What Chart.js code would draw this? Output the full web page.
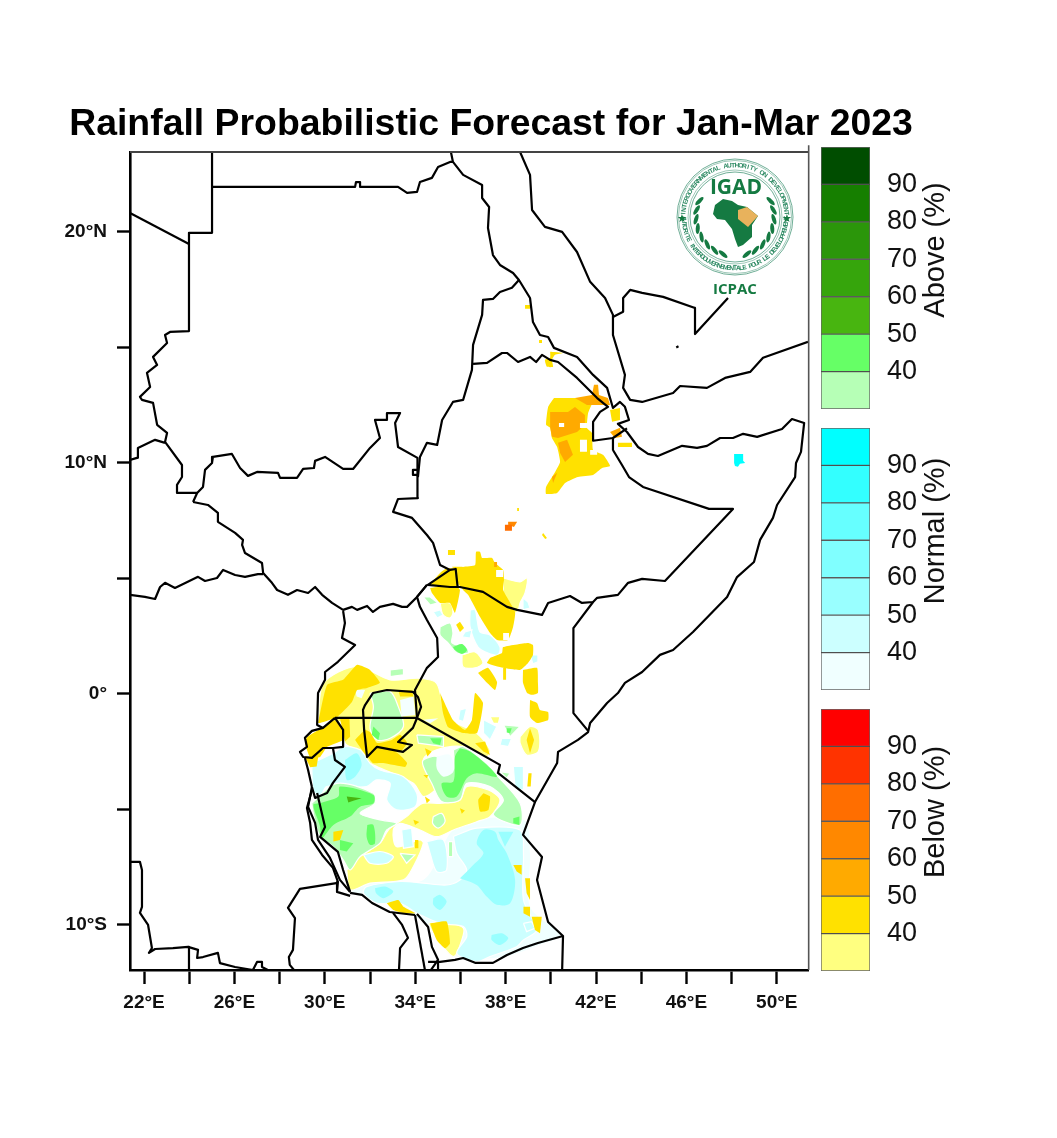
<!DOCTYPE html>
<html><head><meta charset="utf-8">
<script src="https://cdn.jsdelivr.net/npm/chart.js@4/dist/chart.umd.min.js"></script>
<style>
html,body{margin:0;padding:0;background:#fff;width:1057px;height:1138px;overflow:hidden}
canvas{position:absolute;display:block}
</style></head><body>
<canvas id="map" width="982" height="1138" style="left:0;top:0"></canvas>
<canvas id="barAbove" width="150" height="276" style="left:821px;top:140px"></canvas>
<canvas id="barNormal" width="150" height="276" style="left:821px;top:421px"></canvas>
<canvas id="barBelow" width="150" height="276" style="left:821px;top:702px"></canvas>
<script>
const chartTitle="Rainfall Probabilistic Forecast for Jan-Mar 2023";
const lonTicks=[22,24,26,28,30,32,34,36,38,40,42,44,46,48,50];
const lonLabels={22:"22°E",26:"26°E",30:"30°E",34:"34°E",38:"38°E",42:"42°E",46:"46°E",50:"50°E"};
const latTicks=[-10,-5,0,5,10,15,20];
const latLabels={"-10":"10°S","0":"0°","10":"10°N","20":"20°N"};
const barEdges=[30,40,50,60,70,80,90,100];
const barTicks=[40,50,60,70,80,90];
const aboveColors=["#B6FFB6","#66FF66","#48B510","#36A50C","#2B960A","#167F00","#004D00"];
const normalColors=["#F0FFFF","#CCFFFF","#99FFFF","#80FFFF","#66FFFF","#33FFFF","#00FFFF"];
const belowColors=["#FFFF80","#FFE100","#FFAA00","#FF8800","#FF6E00","#FF3300","#FF0000"];

// ---------- country borders and coasts, [lon,lat] ----------
const redSeaWest=[[35.58,23.46],[35.67,23.03],[36.12,22.47],[36.96,22.03],[36.96,21.47],[37.27,21.08],[37.22,20.17],[37.44,19.0],[37.75,18.57],[38.33,18.22],[38.59,17.92],[39.08,17.14],[39.21,16.1],[39.52,15.54],[39.88,15.45],[40.14,14.98],[41.16,14.59],[41.87,13.81],[42.49,13.25],[42.75,12.38],[43.06,12.64],[43.28,12.43],[43.46,11.86],[42.97,11.69],[43.37,11.34],[43.86,10.69],[44.3,10.39],[44.74,10.3],[45.81,10.74],[46.47,10.65],[46.91,10.74],[47.49,11.08],[48.06,11.08],[48.51,11.26],[49.13,11.13],[50.23,11.47],[50.67,11.9],[51.21,11.73],[51.07,10.48],[50.85,10.0],[50.81,9.39],[50.01,8.18],[49.83,7.62],[49.26,6.67],[48.99,5.71],[48.24,5.06],[47.8,4.2],[46.29,2.68],[45.41,1.9],[44.83,1.69],[44.04,0.95],[43.28,0.48],[42.97,0.04],[42.49,-0.39],[41.74,-1.26],[41.65,-1.65],[41.2,-1.99],[40.32,-2.51],[40.28,-2.99],[39.3,-4.68],[38.77,-6.1],[39.61,-7.06],[39.39,-8.05],[39.88,-9.87],[40.54,-10.48],[40.5,-12]];
const tanzaniaSouth=[[40.54,-10.48],[39.43,-10.78],[38.77,-11.0],[38.06,-11.3],[37.44,-11.64],[36.65,-11.64],[36.12,-11.43],[35.76,-11.51],[35.1,-11.6],[34.57,-11.6]];
const ethiopiaSomalia=[[42.75,11.08],[42.75,10.56],[43.15,9.91],[43.46,9.39],[44.08,8.96],[47.0,8.01],[48.06,8.01],[45.05,4.89],[44.04,4.98],[43.42,4.81],[42.97,4.29],[42.05,4.16],[41.87,3.98],[41.38,3.94],[40.85,4.24],[39.88,3.94],[39.61,3.42],[38.51,3.64],[38.06,3.77],[37.0,4.42],[35.98,4.63],[35.54,4.63],[34.56,4.72],[35.54,5.37],[35.79,5.41],[35.88,4.6]];
const somaliaKenya=[[41.87,3.98],[41.0,2.85],[41.0,-0.83],[41.65,-1.6]];
const kenyaUganda=[[34.52,4.72],[34.08,4.2],[34.21,3.77],[34.52,3.2],[34.97,2.42],[35.01,1.6],[34.52,1.13],[33.99,0.17],[34.08,-1.04],[37.75,-3.07],[37.66,-3.42],[39.3,-4.68]];
const southSudanSouth=[[24.17,8.31],[24.83,8.18],[25.27,7.84],[25.27,7.45],[26.03,6.97],[26.38,6.67],[26.34,6.45],[26.47,6.1],[27.22,5.67],[27.27,5.24],[27.66,4.81],[27.89,4.5],[28.37,4.29],[28.77,4.5],[29.26,4.37],[29.57,4.63],[29.88,4.29],[30.32,3.94],[30.81,3.64],[31.2,3.77],[31.43,3.64],[31.87,3.81],[32.13,3.55],[32.44,3.77],[33.02,3.9],[33.42,3.77],[33.64,3.77],[34.08,4.2],[34.52,4.72]];
const southSudanEast=[[35.54,5.37],[35.1,5.58],[34.79,6.54],[34.52,6.88],[33.86,7.62],[33.02,7.88],[33.24,8.44],[34.12,8.48],[34.12,9.39],[34.08,10.22],[33.24,10.69],[33.11,11.73],[33.33,12.16],[32.75,12.16],[32.75,11.86],[32.22,11.86],[32.44,11.08],[32.0,10.65],[31.25,9.74],[30.81,9.74],[30.01,10.26],[29.57,10.09],[29.52,9.78],[29.04,9.74],[28.77,9.35],[28.02,9.35],[27.93,9.57],[27.0,9.61],[26.6,9.44],[26.25,9.78],[25.89,10.39],[25.05,10.26],[25.01,10.0],[24.7,9.7],[24.61,8.96],[24.35,8.7],[24.17,8.31]];
const abyeiBox=[[34.12,9.7],[33.9,9.7],[33.9,9.48],[34.12,9.48]];
const sudanEthiopia=[[34.12,9.39],[34.21,10.26],[34.52,10.87],[34.97,10.78],[35.19,11.86],[35.67,12.64],[36.12,12.73],[36.51,14.03],[36.56,15.11],[36.96,16.41],[37.0,17.06],[37.44,17.1],[37.75,17.4],[38.28,17.58],[38.59,17.92]];
const sudanWest=[[24.35,8.7],[23.5,8.7],[23.46,9.05],[23.68,9.39],[23.68,9.91],[22.93,10.91],[23.02,11.3],[22.58,11.65],[22.4,12.6],[21.91,12.73],[21.82,12.86],[22.27,13.29],[22.13,13.9],[22.58,14.24],[22.4,14.59],[23.02,15.19],[22.93,15.54],[23.15,15.67],[23.99,15.71],[23.99,19.96],[25.01,19.96],[25.01,23.46]];
const chadLibya=[[21.38,20.82],[23.99,19.48]];
const sudanNorth=[[25.01,21.95],[31.34,21.95],[31.38,22.16],[31.56,22.16],[31.56,21.95],[33.24,21.95],[33.64,21.69],[34.08,21.73],[34.21,22.16],[34.74,22.34],[35.01,22.81],[35.54,23.03],[35.67,23.03]];
const carNorth=[[21.38,10.13],[21.69,10.22],[21.73,10.65],[22.49,11.0],[22.93,10.87]];
const carSouth=[[21.38,4.29],[22.04,4.2],[22.49,4.11],[22.71,4.63],[22.93,4.81],[23.37,4.59],[24.39,5.07],[24.7,4.89],[25.23,5.02],[25.5,5.37],[26.03,5.15],[26.47,5.07],[27.04,5.19],[27.27,5.19]];
const drcUganda=[[30.81,3.59],[30.89,3.07],[30.76,2.42],[31.34,2.12],[30.58,1.39],[30.01,0.95],[30.01,0.61],[29.7,0.04],[29.66,-1.34],[29.92,-1.47]];
const ugandaTanzania=[[30.45,-1.04],[34.08,-1.04]];
const rwanda=[[30.45,-1.04],[30.81,-1.56],[30.81,-2.29],[30.36,-2.34],[29.92,-2.34],[29.43,-2.77],[29.04,-2.73],[28.9,-2.51],[29.21,-2.29],[29.12,-1.9],[29.43,-1.6],[29.92,-1.47],[30.45,-1.04]];
const burundi=[[30.36,-2.34],[30.45,-2.86],[30.89,-3.16],[30.36,-3.85],[30.1,-4.29],[29.57,-4.5],[29.43,-4.03],[29.26,-3.29],[29.12,-2.77]];
const lakeVictoria=[[31.78,-0.48],[32.13,0.04],[32.75,0.17],[33.9,0.09],[34.12,-0.13],[34.26,-0.56],[34.08,-1.04],[33.9,-1.47],[33.24,-2.08],[33.86,-2.21],[33.46,-2.51],[32.31,-2.29],[31.87,-2.73],[31.74,-1.56],[31.69,-0.69],[31.78,-0.48]];
const tanganyikaBorder=[[29.66,-4.29],[30.01,-5.76],[29.79,-6.19],[30.58,-6.84],[30.81,-7.62],[31.12,-8.57]];
const tanganyikaShoreA=[[29.43,-4.03],[29.26,-4.89],[29.57,-5.58],[29.7,-6.32],[30.23,-7.1],[30.67,-8.05],[31.12,-8.57]];
const tanganyikaShoreB=[[29.43,-4.16],[29.21,-4.94],[29.35,-5.58],[29.43,-6.32],[29.88,-6.97],[30.36,-7.53],[30.58,-8.14],[30.54,-8.57],[31.12,-8.74]];
const drcZambia=[[30.58,-8.18],[28.9,-8.44],[28.37,-9.26],[28.68,-9.7],[28.59,-11.08],[28.41,-11.39],[28.45,-11.73],[28.68,-12]];
const zambiaTanzania=[[31.12,-8.61],[31.65,-8.7],[32.09,-9.05],[32.87,-9.44],[33.99,-9.57]];
const zambiaMalawi=[[33.02,-9.48],[33.42,-10.0],[33.68,-10.56],[33.33,-11.0],[33.28,-12]];
const malawiLine=[[33.99,-9.57],[34.43,-11.95]];
const lakeMalawi=[[34.08,-9.52],[34.57,-10.09],[34.74,-10.95],[35.01,-11.51],[34.66,-12]];
const lakeMalawiEast=[[35.01,-11.6],[35.01,-12]];
const angolaDrc=[[21.38,-7.27],[21.82,-7.27],[21.91,-7.62],[21.91,-9.22],[21.82,-9.48],[22.18,-10.0],[22.35,-11.0],[22.22,-11.21],[22.49,-11.04],[23.28,-11.0],[23.95,-10.95],[24.39,-11.08],[24.35,-11.43],[24.61,-11.39],[25.27,-11.21],[25.36,-11.65],[26.03,-11.82],[26.82,-11.95],[27.0,-11.6],[27.22,-11.6],[27.22,-11.82],[27.58,-12]];
const angolaLine=[[23.99,-10.95],[23.99,-12]];
const arabianCoast=[[38.64,23.46],[39.08,22.47],[39.17,20.95],[39.74,20.22],[40.5,20.0],[41.16,19.13],[41.74,17.84],[42.4,17.14],[42.75,16.41],[42.75,15.54],[43.28,13.81],[43.2,13.25],[43.51,12.73],[44.04,12.64],[45.41,13.03],[45.72,13.33],[46.91,13.25],[47.71,13.68],[48.82,13.94],[49.39,14.55],[51.38,15.24]];
const yemenSaudi=[[42.75,16.32],[43.2,16.54],[43.2,17.14],[43.51,17.49],[44.04,17.36],[44.97,17.19],[46.38,16.71],[46.38,15.58],[47.84,17.14]];
const yemenIsland=[[45.55,15.0],[45.65,15.05]];
const eritreaEthiopia=[[36.56,14.29],[37.18,14.33],[37.84,14.76],[38.06,14.76],[38.55,14.37],[39.08,14.59],[39.35,14.37],[39.61,14.68],[39.97,14.46],[40.32,14.37],[41.16,13.68],[42.05,12.81],[42.53,12.43],[42.18,12.21],[41.87,11.78],[41.87,10.96],[42.75,11.08],[43.37,11.5]];
const borderLines=[redSeaWest,tanzaniaSouth,ethiopiaSomalia,somaliaKenya,kenyaUganda,southSudanSouth,southSudanEast,abyeiBox,sudanEthiopia,sudanWest,chadLibya,sudanNorth,carNorth,carSouth,drcUganda,ugandaTanzania,rwanda,burundi,lakeVictoria,tanganyikaBorder,tanganyikaShoreA,tanganyikaShoreB,drcZambia,zambiaTanzania,zambiaMalawi,malawiLine,lakeMalawi,lakeMalawiEast,angolaDrc,angolaLine,arabianCoast,yemenSaudi,yemenIsland,eritreaEthiopia];

// ---------- forecast probability areas, [lon,lat] ----------
const nearNormalBase=[[31.12,-8.63],[31.71,-8.19],[34.36,-8.05],[35.84,-5.74],[38.79,-5.45],[39.08,-6.9],[39.08,-9.21],[40.41,-10.43],[39.67,-10.79],[37.9,-11.37],[35.84,-11.37],[34.66,-10.07],[32.89,-9.06]];
const belowLight=[
 [[30.97,-7.62],[31.56,-7.04],[32.44,-6.46],[32.81,-5.89],[33.18,-5.6],[33.62,-5.31],[33.92,-5.02],[34.36,-4.73],[35.17,-4.73],[35.98,-4.59],[36.28,-4.01],[37.24,-4.16],[37.75,-4.59],[37.31,-5.31],[36.72,-5.53],[35.69,-5.89],[34.95,-6.18],[34.21,-5.89],[33.33,-5.6],[33.03,-5.89],[33.18,-6.61],[34.21,-6.32],[34.36,-6.46],[33.92,-7.47],[33.48,-8.05],[32.0,-8.19],[31.12,-8.48]],
 [[29.71,-1.12],[29.94,0.46],[31.41,1.19],[32.89,0.61],[34.14,0.68],[34.95,0.46],[35.39,-0.98],[36.72,-1.7],[37.31,-2.42],[37.16,-2.71],[36.13,-2.28],[34.95,-2.42],[34.36,-2.86],[34.95,-4.01],[34.36,-4.44],[33.92,-3.87],[32.3,-3.14],[32.0,-3.0],[31.41,-2.42],[30.89,-2.13],[30.82,-1.27]],
 [[38.64,-1.85],[39.08,-1.41],[39.45,-1.56],[39.45,-2.49],[38.93,-2.64],[38.64,-2.13]],
 [[37.31,-0.98],[37.75,-0.98],[37.68,-1.27],[37.46,-1.27]],
 [[34.58,-9.93],[35.39,-9.85],[36.13,-10.14],[36.06,-10.65],[35.69,-11.37],[34.8,-10.36]],
 [[32.96,-3.87],[33.4,-3.79],[33.4,-4.59],[33.11,-4.73]],
 [[37.24,-9.49],[37.49,-9.52],[37.38,-9.78]],
 [[37.89,5.02],[38.64,4.85],[38.95,5.02],[38.86,4.37],[38.64,3.94],[38.51,3.55],[37.89,3.64],[37.89,4.37]],
 [[35.1,3.94],[35.54,3.94],[35.67,3.51],[35.54,3.29],[35.23,3.42]],
 [[36.07,1.69],[36.65,1.82],[37.0,1.34],[36.65,1.13],[36.12,1.17]]
];
const normalLight=[
 [[35.69,-6.17],[36.72,-5.81],[38.64,-5.89],[38.79,-6.9],[38.79,-8.92],[39.37,-10.22],[38.79,-10.65],[38.49,-10.94],[37.31,-11.37],[36.72,-11.59],[35.84,-11.23],[36.28,-10.5],[36.13,-10.07],[35.1,-9.93],[34.07,-9.49],[33.33,-9.06],[32.3,-9.06],[31.71,-8.63],[31.85,-8.34],[33.33,-8.12],[34.36,-8.19],[35.39,-8.27],[35.98,-8.05],[36.28,-7.62],[35.84,-6.9]],
 [[29.42,-3.0],[30.38,-2.57],[30.82,-2.28],[31.56,-2.42],[32.0,-3.0],[32.44,-3.29],[33.48,-3.58],[34.07,-4.3],[34.0,-4.88],[33.18,-5.02],[32.74,-4.59],[32.89,-3.87],[32.3,-3.72],[31.85,-4.01],[30.97,-4.01],[30.08,-4.01],[29.79,-4.44],[29.49,-4.16]],
 [[33.4,-5.89],[33.84,-5.81],[33.92,-6.61],[33.48,-6.68]],
 [[31.71,-6.97],[32.44,-6.82],[33.03,-7.04],[32.74,-7.33],[32.0,-7.33]],
 [[34.51,-6.39],[35.25,-6.32],[35.39,-7.62],[34.95,-7.69],[34.66,-6.9]],
 [[38.79,-9.93],[39.15,-9.86],[39.3,-10.14],[38.93,-10.29]],
 [[37.02,-1.12],[37.61,-1.41],[37.31,-1.99],[37.02,-1.7]],
 [[37.83,-1.92],[38.27,-1.92],[38.12,-2.28],[37.75,-2.21]],
 [[38.34,-3.14],[38.79,-3.14],[38.79,-4.16],[38.42,-4.08]],
 [[35.98,-0.69],[36.28,-0.62],[36.13,-1.2],[35.91,-1.12]],
 [[36.43,3.64],[36.65,3.64],[36.74,3.2],[36.87,2.68],[37.31,2.55],[37.75,2.03],[37.66,1.69],[37.22,1.77],[36.78,2.03],[36.43,2.9]],
 [[34.79,3.55],[35.1,3.64],[35.23,3.42],[34.97,3.29]],
 [[38.77,4.16],[38.99,3.98],[39.08,3.72],[38.77,3.64]],
 [[36.2,2.68],[36.51,2.77],[36.43,2.42],[36.07,2.47]],
 [[39.08,1.69],[39.43,1.69],[39.43,1.39],[39.21,1.3]]
];
const aboveLight=[
 [[32.0,0.03],[32.89,0.1],[33.25,-0.55],[33.48,-1.41],[32.89,-1.92],[32.3,-1.99],[32.0,-1.49],[32.15,-0.55]],
 [[35.69,-2.42],[36.13,-2.28],[37.16,-3.0],[37.61,-3.51],[38.64,-4.73],[38.64,-5.67],[37.46,-5.24],[37.9,-4.59],[37.31,-4.01],[36.28,-3.87],[35.98,-4.59],[35.17,-4.66],[34.73,-3.87],[34.36,-3.14],[34.36,-2.86],[34.95,-2.71],[35.69,-3.29]],
 [[29.42,-4.73],[30.53,-3.87],[32.15,-4.3],[32.22,-4.73],[31.56,-5.17],[32.44,-5.45],[33.18,-5.6],[32.74,-5.89],[32.44,-6.46],[31.56,-7.04],[31.12,-7.62],[30.82,-7.19],[30.38,-6.61],[29.79,-6.18],[29.49,-5.17]],
 [[33.33,-6.9],[33.99,-6.97],[33.62,-7.33]],
 [[34.8,-5.31],[35.17,-5.17],[35.32,-5.53],[35.02,-5.81],[34.77,-5.6]],
 [[35.47,-6.39],[35.66,-6.39],[35.66,-7.04],[35.47,-7.04]],
 [[34.07,-1.77],[35.25,-1.85],[35.25,-2.28],[34.14,-2.13]],
 [[32.89,1.04],[33.48,1.11],[33.48,0.83],[32.89,0.75]],
 [[37.9,-1.34],[38.64,-1.41],[38.2,-1.85]],
 [[37.75,-3.36],[38.2,-3.43],[38.05,-3.65]],
 [[35.1,2.9],[35.54,3.07],[35.67,2.64],[35.63,2.21],[36.29,1.99],[36.34,1.77],[35.85,1.77],[35.45,2.21],[35.1,2.55]],
 [[34.35,4.2],[34.66,4.2],[35.01,3.94],[34.66,3.85]]
];
const normalWhite=[
 [[34.95,-2.71],[35.54,-2.64],[35.69,-3.36],[35.25,-3.58],[34.95,-3.22]],
 [[33.33,-0.26],[33.92,-0.11],[34.0,-0.91],[33.4,-0.98]],
 [[31.34,0.17],[31.78,0.17],[31.63,-0.19],[31.41,-0.11]],
 [[34.36,-1.12],[35.02,-1.05],[34.66,-1.27]]
];
const normalMid=[
 [[35.98,-7.98],[36.5,-7.47],[37.02,-6.9],[36.72,-6.46],[37.02,-5.89],[37.53,-5.96],[37.68,-6.32],[38.05,-6.9],[38.42,-8.05],[38.2,-9.06],[37.61,-9.13],[37.16,-8.77],[36.72,-8.27]],
 [[37.68,-5.96],[38.34,-5.96],[37.97,-6.61]],
 [[34.8,-8.84],[35.1,-8.7],[35.39,-8.99],[35.1,-9.35],[34.8,-9.13]],
 [[32.22,-8.41],[32.66,-8.34],[33.03,-8.56],[32.59,-8.84],[32.27,-8.63]],
 [[37.38,-10.43],[37.83,-10.36],[38.12,-10.58],[37.75,-10.87],[37.38,-10.65]],
 [[30.89,-2.86],[31.41,-2.57],[31.63,-3.07],[31.34,-3.58],[30.97,-3.72]]
];
const aboveMid=[
 [[35.98,-2.35],[36.43,-2.49],[37.16,-3.07],[37.61,-3.58],[36.72,-3.43],[36.28,-3.65],[35.84,-4.44],[35.39,-4.44],[35.17,-3.87],[35.69,-3.79],[35.76,-2.71]],
 [[29.79,-4.73],[30.6,-4.44],[30.67,-4.01],[32.15,-4.37],[32.15,-4.73],[31.56,-4.88],[31.12,-5.31],[30.38,-5.67],[29.86,-6.25],[29.79,-5.74],[29.49,-4.8]],
 [[30.67,-6.32],[31.26,-6.46],[30.97,-6.82],[30.67,-6.75]],
 [[31.88,-5.67],[32.15,-5.67],[32.22,-6.46],[32.0,-6.53],[31.85,-6.18]],
 [[32.15,-1.41],[32.44,-1.7],[32.37,-1.99],[32.07,-1.77]],
 [[34.66,-1.92],[35.17,-1.92],[35.1,-2.21],[34.8,-2.13]],
 [[38.05,-1.49],[38.27,-1.49],[38.2,-1.7],[38.05,-1.67]],
 [[38.34,-5.38],[38.61,-5.31],[38.61,-5.67],[38.34,-5.6]],
 [[35.67,2.03],[36.07,2.16],[36.29,1.9],[36.07,1.73],[35.76,1.9]]
];
const aboveHigh=[[[30.97,-4.44],[31.63,-4.51],[31.26,-4.62],[31.04,-4.7]]];
const belowMid=[
 [[29.7,-1.26],[30.1,0.39],[30.81,0.61],[31.43,1.26],[32.0,1.04],[32.44,0.48],[31.87,0.26],[31.43,0.17],[31.2,-0.35],[30.54,-1.0],[29.79,-1.26]],
 [[30.67,-1.05],[31.09,-1.05],[31.12,-1.85],[30.89,-2.06]],
 [[29.21,-1.86],[29.92,-1.43],[30.45,-1.13],[30.81,-1.65],[30.81,-1.99],[30.1,-2.29],[29.79,-2.73],[29.35,-2.73],[29.12,-2.12]],
 [[31.34,-1.99],[31.78,-1.56],[32.0,-1.65],[32.31,-2.12],[32.97,-1.99],[33.33,-1.77],[33.64,-2.12],[33.33,-2.51],[32.75,-2.51],[32.31,-2.34],[31.91,-2.73]],
 [[31.91,-2.73],[32.31,-2.34],[33.2,-2.55],[33.64,-2.99],[33.55,-3.16],[32.58,-2.99],[32.13,-2.99]],
 [[33.25,0.17],[33.84,0.17],[33.92,-0.11],[33.33,-0.11]],
 [[35.1,0.04],[35.67,-1.13],[36.2,-1.56],[36.51,-1.13],[36.65,0.04],[37.0,-0.39],[36.74,-1.69],[36.12,-1.69],[35.45,-1.43],[35.23,-0.82]],
 [[36.65,-2.13],[37.09,-2.06],[37.31,-2.64],[37.02,-2.49]],
 [[34.43,-2.35],[34.73,-2.49],[34.54,-2.71]],
 [[37.02,-4.3],[37.31,-4.44],[37.24,-5.02],[36.87,-5.09],[36.79,-4.59]],
 [[34.43,-4.44],[34.66,-4.59],[34.51,-4.73]],
 [[35.98,-4.95],[36.2,-5.05],[36.06,-5.19]],
 [[33.92,-5.45],[34.18,-5.54],[33.99,-5.67]],
 [[30.38,-5.96],[30.82,-5.89],[30.67,-6.32],[30.38,-6.39]],
 [[33.99,-6.32],[34.14,-6.32],[34.14,-6.68],[33.99,-6.68]],
 [[38.34,-7.4],[38.71,-7.4],[38.71,-7.83],[38.49,-7.69]],
 [[38.86,-7.98],[39.08,-7.98],[39.08,-8.92],[38.93,-8.63]],
 [[38.79,-9.21],[39.08,-9.21],[39.08,-9.64],[38.79,-9.49]],
 [[39.15,-9.64],[39.6,-9.64],[39.52,-10.36],[39.3,-10.22]],
 [[34.66,-9.93],[35.39,-9.85],[35.54,-10.79],[35.32,-11.01],[34.95,-10.65]],
 [[32.74,-9.06],[33.25,-8.92],[33.48,-9.21],[34.0,-9.49],[33.48,-9.49],[33.03,-9.35]],
 [[39.01,-3.43],[39.15,-3.43],[39.11,-4.01],[38.96,-4.01]],
 [[34.36,-3.51],[34.58,-3.51],[34.51,-3.65]],
 [[29.12,-2.71],[29.71,-2.71],[29.64,-3.14],[29.35,-3.17]],
 [[39.08,-1.49],[39.26,-1.99],[39.08,-2.57],[38.93,-1.99]],
 [[40.14,12.81],[41.87,12.77],[41.65,12.16],[41.6,11.51],[41.82,11.3],[41.87,10.56],[42.31,10.35],[42.62,9.87],[42.27,9.78],[41.87,9.48],[41.2,9.39],[40.63,9.13],[40.28,8.7],[39.79,8.66],[39.79,8.96],[40.19,9.61],[40.41,10.04],[40.28,10.69],[40.05,11.08],[39.97,11.52],[39.79,11.65],[39.88,12.42]],
 [[42.62,12.29],[43.06,12.38],[43.06,11.86],[42.71,11.78]],
 [[42.97,10.87],[43.59,10.87],[43.59,10.69],[42.97,10.69]],
 [[39.97,14.81],[40.54,14.76],[40.19,14.68],[40.05,14.46],[40.1,14.16],[39.83,14.16],[39.74,14.46],[39.97,14.55]],
 [[38.86,16.84],[39.08,16.84],[39.08,16.67],[38.86,16.67]],
 [[39.48,15.32],[39.61,15.32],[39.61,15.19],[39.48,15.19]],
 [[38.51,8.05],[38.59,8.05],[38.59,7.92],[38.51,7.92]],
 [[39.66,6.97],[39.83,6.75],[39.75,6.71],[39.61,6.88]],
 [[36.12,5.5],[36.65,5.58],[36.69,6.15],[36.87,6.15],[36.96,5.89],[37.4,5.89],[37.53,5.67],[37.89,5.37],[37.93,4.94],[37.89,4.5],[38.42,3.55],[38.33,2.9],[38.11,2.34],[37.62,2.34],[37.31,2.64],[36.87,3.33],[36.34,4.29],[36.12,4.5],[35.89,4.81],[35.85,5.37],[35.63,5.5]],
 [[35.45,6.23],[35.76,6.23],[35.76,6.02],[35.45,6.02]],
 [[34.66,4.59],[35.76,4.72],[35.98,4.5],[35.76,3.51],[35.54,3.94],[35.1,3.94],[34.74,4.37]],
 [[35.1,5.24],[35.41,5.45],[35.85,5.37],[35.89,4.63],[34.66,4.72]],
 [[35.81,2.99],[35.98,3.12],[36.16,2.86],[35.98,2.68]],
 [[37.31,1.56],[37.84,1.77],[37.89,2.03],[38.99,2.21],[39.21,2.12],[39.21,1.69],[38.99,1.34],[38.64,1.04],[37.89,1.13],[37.18,1.34]],
 [[36.78,0.91],[37.22,1.13],[37.62,0.52],[37.53,0.17],[37.18,0.48]],
 [[38.77,1.04],[39.39,1.13],[39.43,0.48],[39.43,0.04],[39.17,-0.04],[38.95,0.04],[38.77,0.48]],
 [[39.08,-0.26],[39.39,-0.39],[39.52,-0.69],[39.88,-0.78],[39.88,-1.13],[39.39,-1.26],[39.08,-1.0]],
 [[37.89,1.13],[38.02,1.13],[38.02,0.61],[37.89,0.61]]
];
const belowHigh=[
 [[39.97,12.21],[40.76,12.21],[41.07,12.42],[41.51,12.08],[41.51,11.65],[41.16,11.34],[40.32,11.08],[40.05,11.13],[39.97,11.56]],
 [[41.07,12.81],[41.82,12.94],[41.91,13.38],[42.09,13.38],[42.13,12.94],[42.53,12.81],[42.62,12.51],[42.05,12.51],[41.6,12.51]],
 [[40.32,10.87],[40.72,11.0],[40.98,10.35],[40.63,10.04],[40.41,10.43]],
 [[40.05,9.39],[40.28,9.57],[40.1,9.13]],
 [[42.62,11.34],[43.06,11.52],[43.15,11.13],[42.84,11.08]],
 [[37.49,5.71],[37.62,5.71],[37.62,5.5],[37.49,5.5]]
];
const belowHigher=[[[38.11,7.45],[38.51,7.45],[38.37,7.23],[38.11,7.32]]];
const belowTop=[[[37.97,7.32],[38.28,7.32],[38.28,7.06],[37.97,7.06]]];
const holes=[
 [[40.36,11.73],[40.59,11.73],[40.59,11.56],[40.36,11.56]],
 [[41.29,11.73],[41.6,11.73],[41.6,11.51],[41.29,11.51]],
 [[41.29,11.0],[41.6,11.0],[41.6,10.48],[41.29,10.48]],
 [[41.74,10.56],[42.05,10.56],[42.05,10.35],[41.74,10.35]],
 [[37.58,5.37],[37.89,5.37],[37.89,5.06],[37.58,5.06]],
 [[37.89,2.64],[38.15,2.64],[38.15,2.34],[37.89,2.34]]
];
const normalPeak=[[[48.11,10.39],[48.51,10.39],[48.51,10.09],[48.6,10.0],[48.37,9.96],[48.28,9.83],[48.15,9.87],[48.11,10.0]]];

const fillLayers=[
 [[nearNormalBase],normalColors[0],false,0.3],
 [belowLight,belowColors[0],true,0.3],
 [normalLight,normalColors[1],true,0.3],
 [aboveLight,aboveColors[0],true,0.3],
 [normalWhite,"#F4FFFF",false,0.3],
 [normalMid,normalColors[2],false,0.3],
 [aboveMid,aboveColors[1],false,0.3],
 [aboveHigh,aboveColors[2],false,0],
 [belowMid,belowColors[1],false,0.15],
 [belowHigh,belowColors[2],false,0],
 [belowHigher,belowColors[3],false,0],
 [belowTop,belowColors[4],false,0],
 [holes,"#FFFFFF",false,0],
 [normalPeak,normalColors[6],false,0]
];
const toPts=a=>a.map(p=>({x:p[0],y:p[1]}));
const datasets=[];
fillLayers.forEach(([polys,color,halo,bend])=>polys.forEach(poly=>{
  const closed=poly.concat([poly[0]]);
  datasets.push({data:toPts(closed),showLine:true,fill:"shape",backgroundColor:color,
    borderColor:halo?"#FFFFFF":color,borderWidth:halo?1.2:0,pointRadius:0,tension:poly.length>4?bend:0});
}));
borderLines.forEach(line=>datasets.push({data:toPts(line),showLine:true,fill:false,borderColor:"#000",borderWidth:2.2,pointRadius:0,tension:0,borderJoinStyle:"round"}));
const xMin=21.38,xMax=51.38,yMin=-11.95,yMax=23.46;
datasets.push({data:toPts([[xMin,yMax],[xMax,yMax]]),showLine:true,fill:false,borderColor:"#444",borderWidth:2.2,pointRadius:0,clip:false});
datasets.push({data:toPts([[xMax+0.03,yMin],[xMax+0.03,23.75]]),showLine:true,fill:false,borderColor:"#555",borderWidth:1.6,pointRadius:0,clip:false});
datasets.forEach((d,i)=>{d.order=datasets.length-i;});

// simplified IGAD / ICPAC emblem
const logoPlugin={id:"logo",afterDatasetsDraw(c){
  const g=c.ctx,cx=735,cy=217,G="#157a42",T="#5fa58a";
  g.save();g.translate(cx,cy);
  g.strokeStyle=T;g.lineWidth=0.9;
  [58,45].forEach(r=>{g.beginPath();g.arc(0,0,r,0,Math.PI*2);g.stroke();});
  g.lineWidth=0.6;[56.5,47].forEach(r=>{g.beginPath();g.arc(0,0,r,0,Math.PI*2);g.stroke();});
  const arc=(s,r,a0,a1,flip)=>{g.font='bold 6.5px "Liberation Sans"';g.fillStyle="#2d8a63";g.textAlign="center";g.textBaseline="middle";
    [...s].forEach((ch,i)=>{const a=a0+(a1-a0)*i/(s.length-1);g.save();g.rotate(a);g.translate(0,flip?r:-r);g.fillText(ch,0,0);g.restore();});};
  arc("INTERGOVERNMENTAL AUTHORITY ON DEVELOPMENT",51.5,-1.5,1.5,false);
  arc("AUTORITE INTERGOUVERNEMENTALE POUR LE DEVELOPPEMENT",51.5,1.55,-1.55,true);
  g.fillStyle=G;g.textAlign="center";g.textBaseline="middle";
  g.font='bold 21px "Open Sans","Liberation Sans"';g.fillText("IGAD",1,-29);
  g.font='11px "DejaVu Sans"';g.fillText("★",-53,2);g.fillText("★",52,2);
  const af=[[-20,-12],[-12,-18],[-3,-16],[3,-12],[12,-10],[23,-1],[17,8],[17,20],[8,28],[3,30],[0,22],[-3,12],[-10,3],[-18,2],[-22,-3]];
  const horn=[[3,-7],[12,-10],[23,-1],[13,10],[3,2]];
  const path=pts=>{g.beginPath();pts.forEach((p,i)=>i?g.lineTo(p[0],p[1]):g.moveTo(p[0],p[1]));g.closePath();g.fill();};
  path(af);g.fillStyle="#e8b25c";path(horn);
  g.fillStyle=G;
  [-1,1].forEach(s=>{for(let i=0;i<8;i++){const a=i*0.24-0.42,r=39;
    const x=s*r*Math.cos(a),y=r*Math.sin(a);
    g.save();g.translate(x,y);g.rotate(s*(a+1.2));g.beginPath();g.ellipse(0,0,5.5,2,0,0,Math.PI*2);g.fill();g.restore();}});
  g.font='bold 15px "Open Sans","Liberation Sans"';g.fillText("ICPAC",0,73);
  g.restore();
}};

Chart.defaults.font.family='"Liberation Sans",Arial,sans-serif';
new Chart(document.getElementById("map"),{
  type:"scatter",
  data:{datasets},
  plugins:[logoPlugin],
  options:{
    responsive:false,animation:false,events:[],
    layout:{padding:0},
    plugins:{legend:{display:false},tooltip:{enabled:false},
      title:{display:true,text:chartTitle,color:"#000",font:{size:37.4,weight:"bold",lineHeight:1},padding:{top:106,bottom:8.6}}},
    scales:{
      x:{type:"linear",min:xMin,max:xMax,
        afterBuildTicks:s=>{s.ticks=lonTicks.map(v=>({value:v}));},
        afterFit:s=>{s.height=168;},
        border:{color:"#000",width:2.6},
        grid:{drawOnChartArea:false,drawTicks:true,tickLength:14,tickColor:"#000",tickWidth:2.4},
        ticks:{autoSkip:false,maxRotation:0,color:"#111",padding:7,font:{size:19,weight:"bold"},callback:v=>lonLabels[v]||""}},
      y:{type:"linear",min:yMin,max:yMax,
        afterBuildTicks:s=>{s.ticks=latTicks.map(v=>({value:v}));},
        afterFit:s=>{s.width=130;},
        border:{color:"#000",width:2.6},
        grid:{drawOnChartArea:false,drawTicks:true,tickLength:13,tickColor:"#000",tickWidth:2.4},
        ticks:{autoSkip:false,color:"#111",padding:10,font:{size:19,weight:"bold"},callback:v=>latLabels[v]||""}},
      rightGap:{type:"linear",position:"right",min:yMin,max:yMax,
        afterFit:s=>{s.width=174;},
        border:{display:false},grid:{display:false},ticks:{display:false}}
    }
  }
});

function colourBar(id,label,colors){
  const rotated={id:"sideLabel",afterDraw(c){const g=c.ctx;g.save();g.translate(115,c.chartArea.top+103);g.rotate(-Math.PI/2);
    g.font='29px "Liberation Sans"';g.fillStyle="#111";g.textAlign="center";g.textBaseline="middle";g.fillText(label,0,0);g.restore();}};
  new Chart(document.getElementById(id),{
    type:"bar",
    data:{labels:[label],datasets:colors.map((col,i)=>({data:[[barEdges[i],barEdges[i+1]]],backgroundColor:col,
      borderColor:"rgba(50,50,50,0.75)",borderWidth:1,borderSkipped:false,grouped:false,barPercentage:1,categoryPercentage:1}))},
    plugins:[rotated],
    options:{responsive:false,animation:false,events:[],
      layout:{padding:{left:0,right:0,top:7,bottom:7}},
      plugins:{legend:{display:false},tooltip:{enabled:false},title:{display:false}},
      scales:{
        x:{display:false},
        y:{position:"right",min:30,max:100,
          afterBuildTicks:s=>{s.ticks=barTicks.map(v=>({value:v}));},
          afterFit:s=>{s.width=101;s.paddingTop=0;s.paddingBottom=0;},
          border:{display:false},
          grid:{display:false,drawTicks:false},
          ticks:{color:"#111",padding:17,font:{size:27},autoSkip:false}}
      }
    }
  });
}
colourBar("barAbove","Above (%)",aboveColors);
colourBar("barNormal","Normal (%)",normalColors);
colourBar("barBelow","Below (%)",belowColors);
</script>
</body></html>
